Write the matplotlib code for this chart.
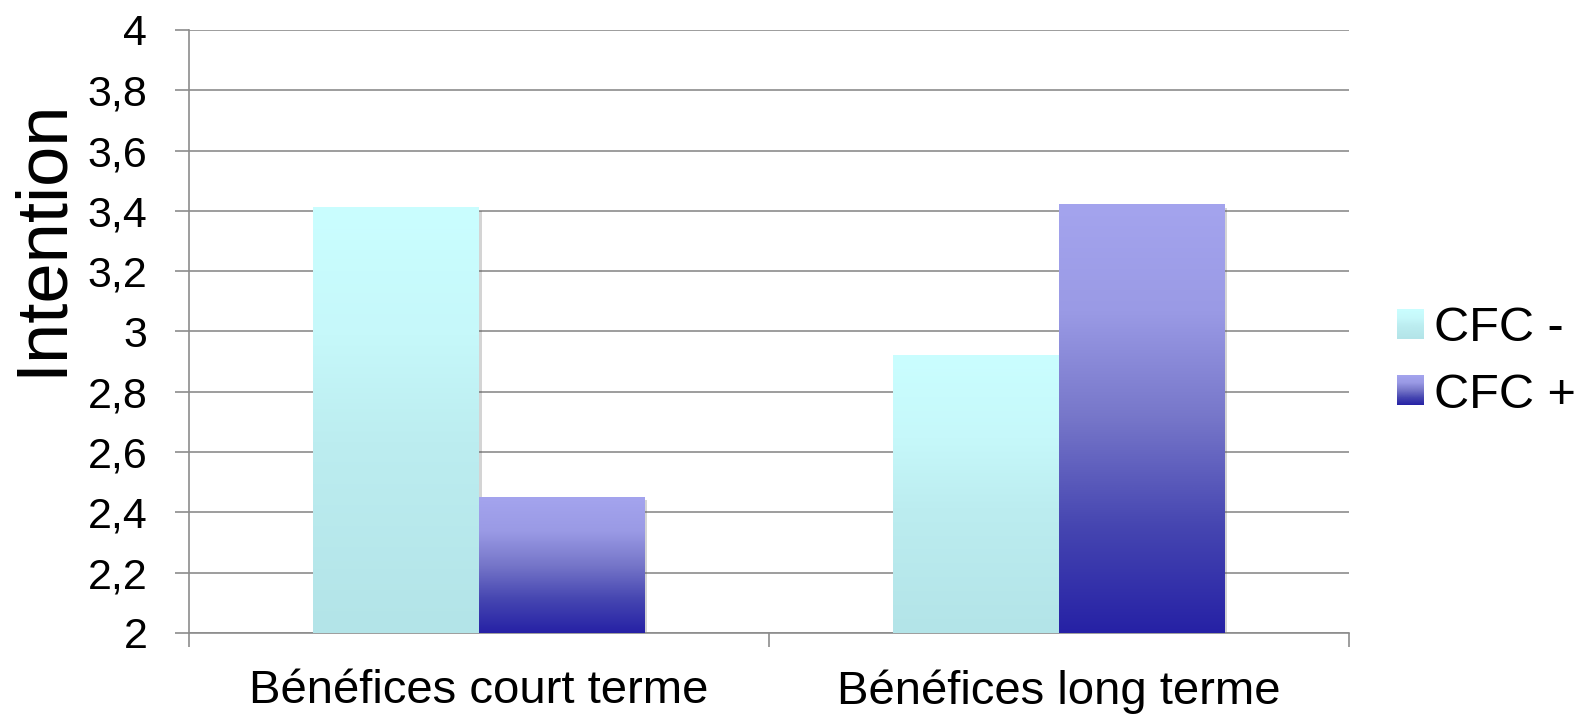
import matplotlib
matplotlib.use("Agg")
import matplotlib.pyplot as plt
import matplotlib.patheffects as pe
import numpy as np
from matplotlib.colors import LinearSegmentedColormap
from matplotlib.legend_handler import HandlerBase
from matplotlib.image import BboxImage
from matplotlib.patches import Rectangle
from matplotlib.transforms import Bbox, TransformedBbox

# ── Data ─────────────────────────────────────────────────────────────────────
categories = ["Bénéfices court terme", "Bénéfices long terme"]
series = ["CFC -", "CFC +"]
cfc_minus = [3.41, 2.92]
cfc_plus = [2.45, 3.42]
yticks = [2.0, 2.2, 2.4, 2.6, 2.8, 3.0, 3.2, 3.4, 3.6, 3.8, 4.0]
ytick_labels = ["2", "2,2", "2,4", "2,6", "2,8", "3", "3,2", "3,4", "3,6", "3,8", "4"]
ylabel = "Intention"

# ── Gradients (bottom -> top) ────────────────────────────────────────────────
cmap_cyan = LinearSegmentedColormap.from_list(
    "cyan", [(0.0, "#B3E4E8"), (0.45, "#BCEDF0"), (0.7, "#C6F8FA"), (1.0, "#CAFEFF")])
cmap_blue = LinearSegmentedColormap.from_list(
    "blue", [(0.0, "#2621A5"), (0.25, "#4646B1"), (0.5, "#7676C9"),
             (0.75, "#9A9AE5"), (1.0, "#A4A4EE")])
cmaps = [cmap_cyan, cmap_blue]
grad = np.linspace(0, 1, 256).reshape(-1, 1)

plt.rcParams["font.family"] = ["Liberation Sans", "DejaVu Sans"]

fig = plt.figure(figsize=(15.83, 7.15), dpi=100)
ax = fig.add_axes([189 / 1583, 1 - 633 / 715, (1349 - 189) / 1583, (633 - 30) / 715])

x = np.arange(len(categories), dtype=float)
w = 1 / 3.5
grid_c = "#8C8C8C"

for i, vals in enumerate([cfc_minus, cfc_plus]):
    offs = (i - 0.5) * w
    bars = ax.bar(x + offs, np.array(vals) - 2, w, bottom=2, color="white",
                  linewidth=0, zorder=2,
                  path_effects=[pe.SimplePatchShadow(offset=(2, -2), alpha=0.25,
                                                      shadow_rgbFace="#555555"),
                                pe.Normal()])
    for b in bars:
        x0, y0 = b.get_x(), b.get_y()
        ax.imshow(grad, cmap=cmaps[i], origin="lower", aspect="auto",
                  extent=(x0, x0 + b.get_width(), y0, y0 + b.get_height()),
                  zorder=3, interpolation="bicubic")

ax.set_xlim(-0.5, len(categories) - 0.5)
ax.set_ylim(2, 4)
ax.set_yticks(yticks)
ax.set_yticklabels(ytick_labels)
ax.set_xticks(x)
ax.set_xticklabels(categories)
ax.set_xticks(np.arange(len(categories) + 1) - 0.5, minor=True)

ax.yaxis.grid(True, color=grid_c, linewidth=1.2)
ax.set_axisbelow(True)
for s in ["top", "right"]:
    ax.spines[s].set_visible(False)
for s in ["left", "bottom"]:
    ax.spines[s].set_color(grid_c)
    ax.spines[s].set_linewidth(1.2)

ax.tick_params(axis="y", length=10, width=1.2, color=grid_c, pad=20, labelsize=31)
ax.tick_params(axis="x", which="major", length=0, pad=26, labelsize=34)
ax.tick_params(axis="x", which="minor", length=10, width=1.2, color=grid_c)

fig.text(42 / 1583, 1 - 237 / 715, ylabel, rotation=90, fontsize=52,
         ha="center", va="center")


class GradientHandler(HandlerBase):
    def __init__(self, cmap):
        super().__init__()
        self.cmap = cmap

    def create_artists(self, legend, orig_handle, xdescent, ydescent,
                       width, height, fontsize, trans):
        bb = TransformedBbox(Bbox.from_bounds(-xdescent, -ydescent, width, height), trans)
        img = BboxImage(bb, cmap=self.cmap, interpolation="bicubic", origin="lower")
        img.set_data(grad)
        return [img]


handles = [Rectangle((0, 0), 1, 1) for _ in series]
ax.legend(handles, series, handler_map={h: GradientHandler(c) for h, c in zip(handles, cmaps)},
          loc="center left", bbox_to_anchor=(1397 / 1583, 1 - 362 / 715),
          bbox_transform=fig.transFigure, frameon=False, fontsize=35,
          handlelength=0.55, handleheight=0.55, handletextpad=0.22,
          labelspacing=0.45, borderpad=0, borderaxespad=0)

fig.savefig("out.png", dpi=100, facecolor="white")
